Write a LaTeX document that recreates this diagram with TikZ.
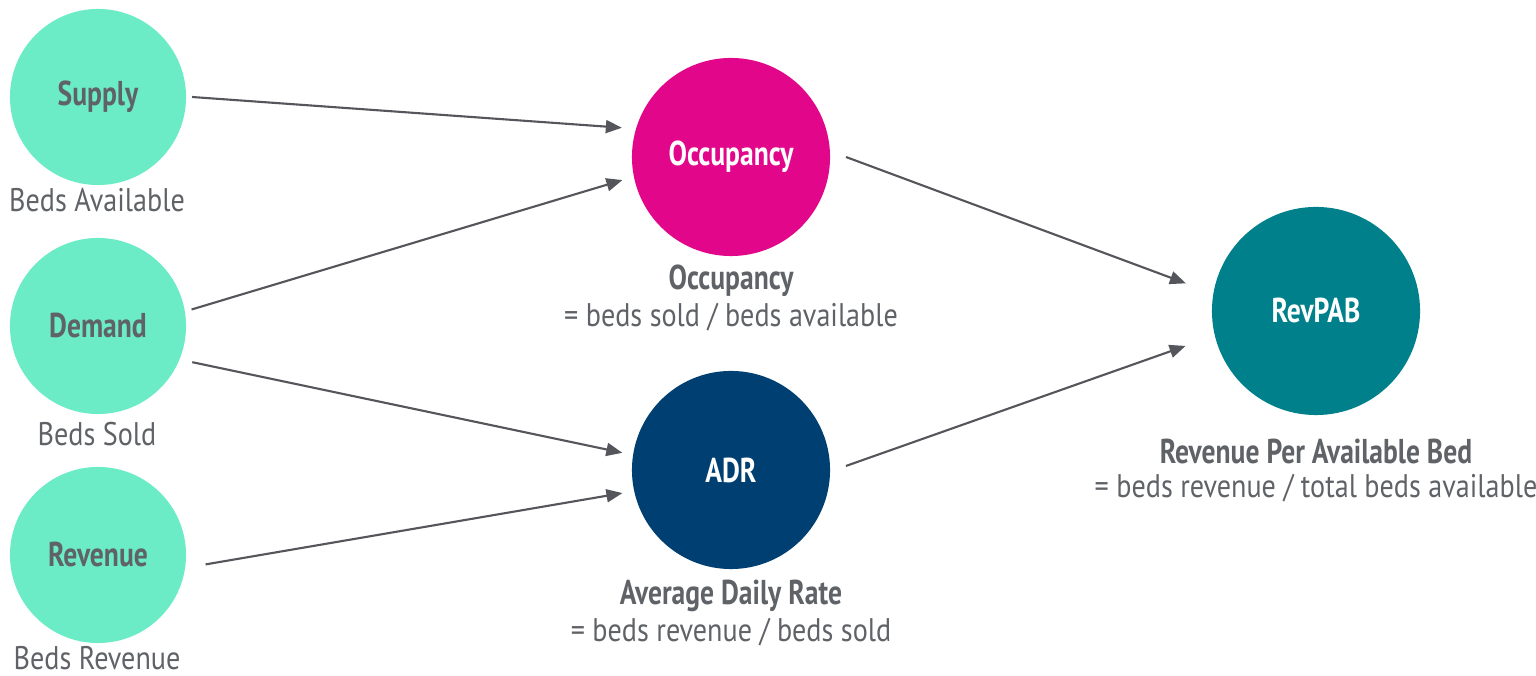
\documentclass[tikz,border=0pt]{standalone}
\usepackage{fontspec}
\setmainfont{PT Sans}[FakeStretch=0.86, BoldFeatures={FakeStretch=0.8}]
\usetikzlibrary{arrows.meta,calc}

\definecolor{mint}{HTML}{6CECC6}
\definecolor{magenta}{HTML}{E2068A}
\definecolor{navy}{HTML}{003F72}
\definecolor{teal}{HTML}{00808A}
\definecolor{txtgray}{HTML}{5F6266}
\definecolor{arrgray}{HTML}{55565B}

\tikzset{
    kpi/.style={circle, minimum size=#1, inner sep=0pt, font=\fontsize{9.8}{11}\selectfont\bfseries},
    inkpi/.style={kpi=1.76cm, fill=mint, text=txtgray},
    outkpi/.style={kpi=1.98cm, text=white},
    caption/.style={text=txtgray, inner sep=0pt, align=center, font=\fontsize{9.3}{11}\selectfont},
    title/.style={caption, font=\fontsize{9.8}{11}\selectfont\bfseries},
    flow/.style={draw=arrgray, line width=0.6pt, -{Triangle[length=0.16cm, width=0.13cm]}}
}

\begin{document}
\begin{tikzpicture}[x=0.01cm, y=0.01cm]
    \useasboundingbox (0,0) rectangle (1536,676);

    % --- Grandezze di partenza (colonna di sinistra) ---
    \foreach \name/\y/\txt/\sub/\ys in {sup/579/Supply/Beds Available/476,
                                      dem/350/Demand/Beds Sold/242,
                                      rev/121/Revenue/Beds Revenue/18} {
        \node[inkpi] (\name) at (98, \y) {\txt};
        \node[caption] (\name-sub) at (97, \ys) {\sub};
    }

    % --- Indicatori intermedi ---
    \node[outkpi, fill=magenta] (occ) at (731, 519) {Occupancy};
    \node[title] (occ-title) at (731, 395) {Occupancy};
    \node[caption] (occ-sub) at (731, 359) {= beds sold / beds available};

    \node[outkpi, fill=navy] (adr) at (731, 206) {ADR};
    \node[title] (adr-title) at (731, 80) {Average Daily Rate};
    \node[caption] (adr-sub) at (731, 44) {= beds revenue / beds sold};

    % --- Indicatore finale ---
    \node[kpi=2.08cm, fill=teal, text=white] (rpb) at (1316, 365) {RevPAB};
    \node[title] (rpb-title) at (1316, 225) {Revenue Per Available Bed};
    \node[caption] (rpb-sub) at (1316, 188) {= beds revenue / total beds available};

    % --- Frecce: nodo/angolo/distanza di partenza e di arrivo ---
    \foreach \a/\aa/\ad/\b/\ba/\bd in {sup/0/94/occ/165/113,
                                     dem/10/95/occ/192/111,
                                     dem/-21/101/adr/171/110,
                                     rev/-5/108/adr/192/111,
                                     occ/0/115/rpb/168/133,
                                     adr/2/115/rpb/195/135} {
        \draw[flow] ($(\a.center)+(\aa:\ad)$) -- ($(\b.center)+(\ba:\bd)$);
    }

\end{tikzpicture}
\end{document}
